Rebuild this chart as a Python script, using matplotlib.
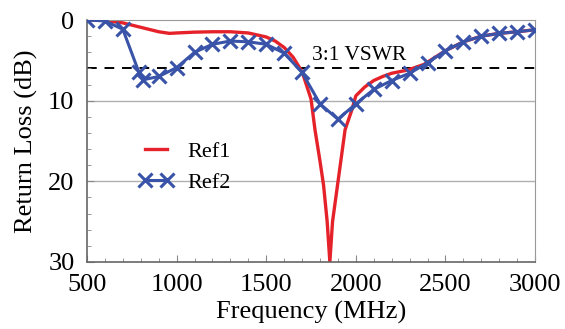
import matplotlib
matplotlib.use('Agg')
import matplotlib.pyplot as plt
from matplotlib.ticker import MultipleLocator

# Ref1 (red, smooth trace)
ref1_freq = [500, 600, 700, 800, 900, 960, 1000, 1100, 1200, 1300, 1400, 1500,
             1550, 1600, 1650, 1700, 1750, 1772, 1800, 1820, 1840, 1855, 1870,
             1902, 1940, 1977, 2000, 2050, 2100, 2150, 2200, 2290, 2380, 2500,
             2600, 2700, 2800, 2900, 3000]
ref1_loss = [0, 0.05, 0.35, 0.9, 1.45, 1.65, 1.6, 1.5, 1.45, 1.45, 1.6, 2.1,
             2.6, 3.4, 4.6, 6.4, 9.8, 13.6, 17.5, 20.5, 25, 30, 25,
             19.8, 13.6, 11.2, 9.4, 8.3, 7.5, 7.0, 6.6, 6.2, 5.5, 3.8,
             2.7, 2.0, 1.65, 1.45, 1.2]

# Ref2 (blue, with x markers)
ref2_freq = [500, 600, 700, 790, 815, 900, 1000, 1100, 1200, 1300, 1400, 1500,
             1600, 1700, 1800, 1900, 2000, 2100, 2200, 2300, 2400, 2500, 2600,
             2700, 2800, 2900, 3000]
ref2_loss = [0, 0.1, 1.15, 6.5, 7.4, 7.0, 5.9, 4.0, 3.0, 2.6, 2.7, 3.0,
             4.1, 6.5, 10.4, 12.3, 10.4, 8.6, 7.5, 6.6, 5.3, 3.8, 2.7,
             2.0, 1.65, 1.45, 1.2]

vswr_level = 6

plt.rcParams['font.family'] = ['Liberation Serif', 'DejaVu Serif']

fig = plt.figure(figsize=(5.65, 3.29), dpi=100)
ax = fig.add_axes([0.154, 0.204, 0.793, 0.735])

ax.axhline(10, color='#b0b0b0', lw=1, zorder=0)
ax.axhline(20, color='#b0b0b0', lw=1, zorder=0)
ax.axhline(vswr_level, color='black', lw=1.4, ls=(0, (5, 4)), zorder=1)
ax.text(2020, vswr_level - 0.4, '3:1 VSWR', fontsize=15.5, ha='center', va='bottom')

ax.plot(ref1_freq, ref1_loss, color='#e5222a', lw=2.4, label='Ref1', zorder=2)
ax.plot(ref2_freq, ref2_loss, color='#3953a8', lw=2.2, marker='x', ms=10, mew=2.2,
        label='Ref2', zorder=3)

ax.set_xlim(500, 3000)
ax.set_ylim(30, 0)
ax.xaxis.set_major_locator(MultipleLocator(500))
ax.xaxis.set_minor_locator(MultipleLocator(100))
ax.yaxis.set_major_locator(MultipleLocator(10))
ax.yaxis.set_minor_locator(MultipleLocator(2))
ax.tick_params(which='both', direction='in', colors='#888888', labelcolor='black',
               labelsize=19)
ax.tick_params(which='major', length=5)
ax.tick_params(which='minor', length=3)
ax.tick_params(axis='x', pad=9)
ax.tick_params(axis='y', pad=9)

for side in ['top', 'right']:
    ax.spines[side].set_color('#999999')
for side in ['left', 'bottom']:
    ax.spines[side].set_color('#666666')
    ax.spines[side].set_linewidth(1.2)

ax.set_xlabel('Frequency (MHz)', fontsize=19, labelpad=3)
ax.set_ylabel('Return Loss (dB)', fontsize=19, labelpad=7)

ax.legend(loc='upper left', bbox_to_anchor=(0.07, 0.58), frameon=False,
          fontsize=16, numpoints=2, handlelength=1.6, handletextpad=0.6,
          labelspacing=0.45)

fig.savefig('out.png', dpi=100)
